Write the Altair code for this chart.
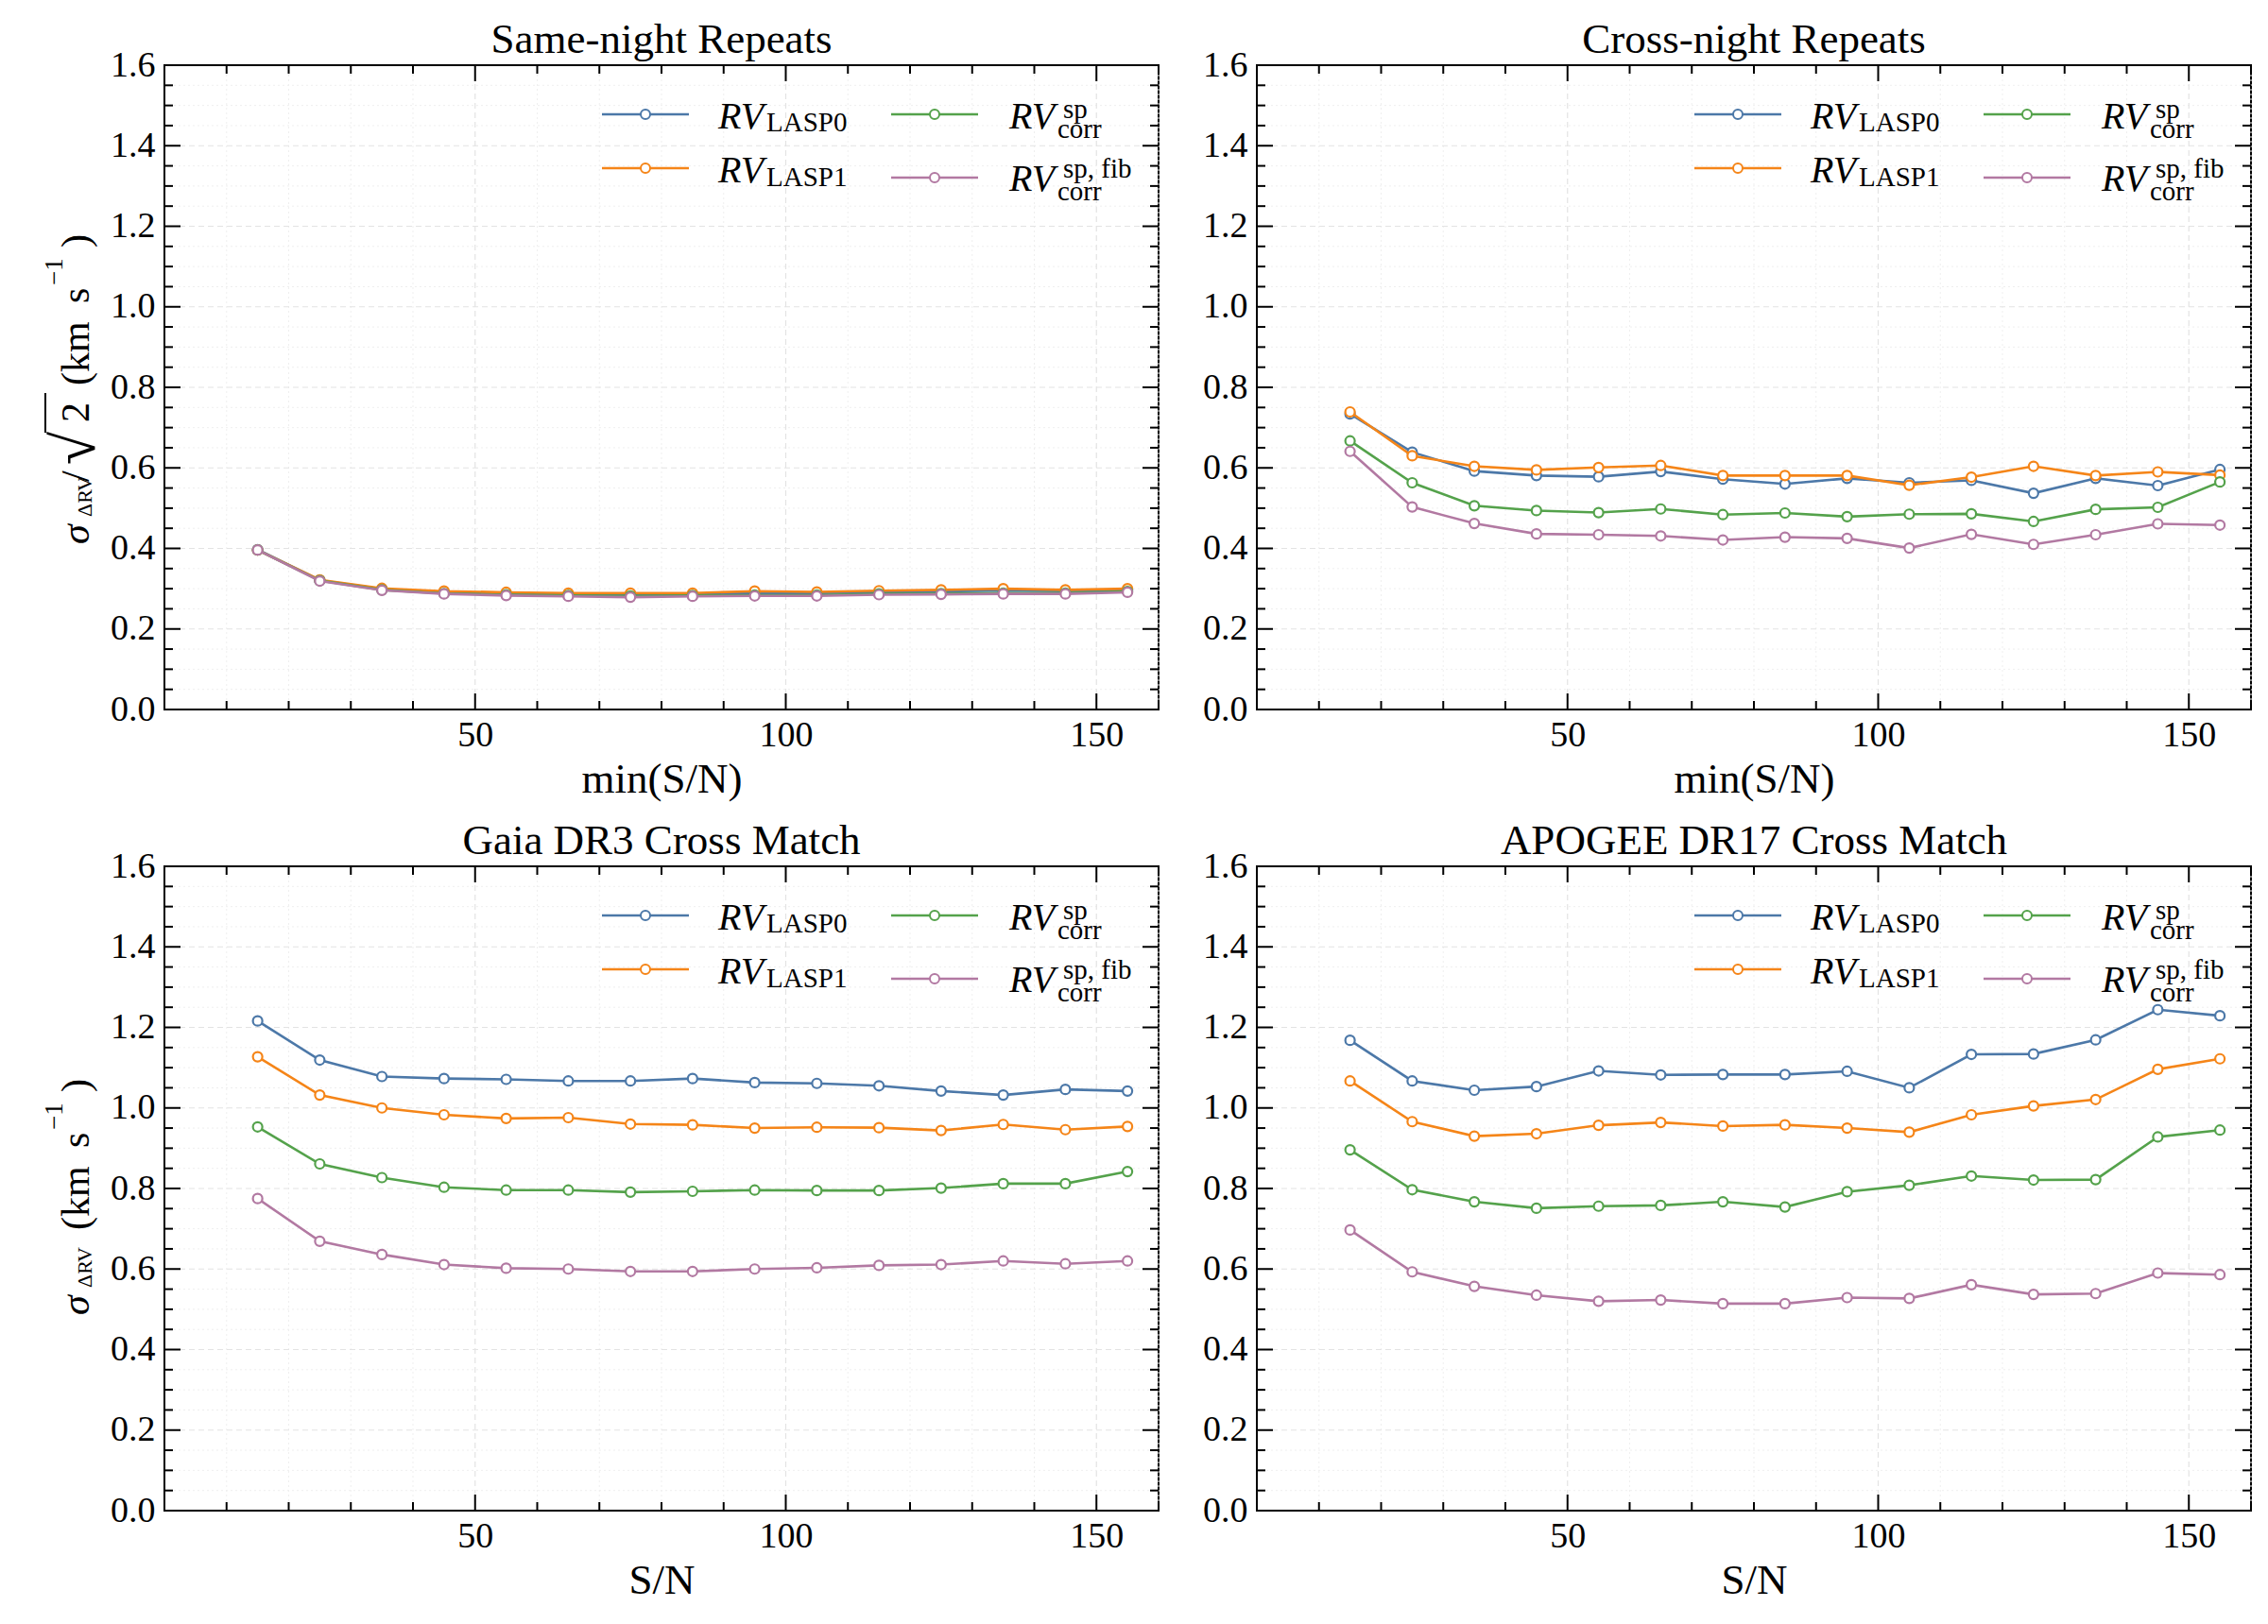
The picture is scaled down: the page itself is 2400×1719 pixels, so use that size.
import altair as alt
import pandas as pd

FONT = "Liberation Serif"
W, H = 1052, 682

# ---------------- data ----------------
SN = [15, 25, 35, 45, 55, 65, 75, 85, 95, 105, 115, 125, 135, 145, 155]
COLORS = ["#4c78a8", "#f58518", "#54a24b", "#b279a2"]

same_lasp0 = [0.397, 0.321, 0.299, 0.291, 0.288, 0.286, 0.286, 0.286, 0.290, 0.289, 0.291, 0.293, 0.296, 0.294, 0.297]
same_lasp1 = [0.396, 0.322, 0.301, 0.294, 0.291, 0.289, 0.289, 0.289, 0.294, 0.292, 0.295, 0.297, 0.300, 0.297, 0.300]
same_sp = [0.396, 0.320, 0.297, 0.288, 0.285, 0.283, 0.282, 0.283, 0.284, 0.284, 0.287, 0.288, 0.289, 0.289, 0.293]
same_spfib = [0.396, 0.319, 0.296, 0.287, 0.283, 0.281, 0.279, 0.281, 0.282, 0.282, 0.285, 0.286, 0.287, 0.287, 0.291]

cross_lasp0 = [0.734, 0.639, 0.592, 0.581, 0.578, 0.591, 0.572, 0.560, 0.574, 0.563, 0.569, 0.537, 0.574, 0.556, 0.596]
cross_lasp1 = [0.739, 0.630, 0.604, 0.595, 0.601, 0.606, 0.581, 0.581, 0.581, 0.557, 0.577, 0.604, 0.581, 0.590, 0.582]
cross_sp = [0.667, 0.563, 0.506, 0.494, 0.489, 0.498, 0.484, 0.488, 0.479, 0.485, 0.486, 0.467, 0.497, 0.502, 0.565]
cross_spfib = [0.641, 0.503, 0.462, 0.436, 0.434, 0.431, 0.421, 0.428, 0.425, 0.401, 0.435, 0.410, 0.434, 0.461, 0.458]

gaia_lasp0 = [1.216, 1.119, 1.078, 1.073, 1.071, 1.067, 1.067, 1.073, 1.063, 1.061, 1.055, 1.042, 1.032, 1.046, 1.042]
gaia_lasp1 = [1.127, 1.032, 1.000, 0.983, 0.974, 0.976, 0.960, 0.958, 0.950, 0.952, 0.951, 0.944, 0.959, 0.946, 0.954]
gaia_sp = [0.953, 0.861, 0.827, 0.803, 0.796, 0.796, 0.791, 0.793, 0.796, 0.795, 0.795, 0.801, 0.812, 0.812, 0.842]
gaia_spfib = [0.775, 0.669, 0.636, 0.611, 0.602, 0.600, 0.594, 0.594, 0.600, 0.603, 0.609, 0.611, 0.620, 0.613, 0.620]

apogee_lasp0 = [1.168, 1.067, 1.044, 1.053, 1.092, 1.082, 1.083, 1.083, 1.091, 1.050, 1.133, 1.134, 1.169, 1.244, 1.229]
apogee_lasp1 = [1.067, 0.966, 0.930, 0.936, 0.957, 0.964, 0.955, 0.958, 0.950, 0.940, 0.983, 1.005, 1.021, 1.096, 1.122]
apogee_sp = [0.896, 0.797, 0.767, 0.751, 0.756, 0.758, 0.767, 0.754, 0.792, 0.808, 0.831, 0.821, 0.822, 0.928, 0.945]
apogee_spfib = [0.697, 0.593, 0.557, 0.535, 0.520, 0.523, 0.514, 0.514, 0.529, 0.527, 0.561, 0.537, 0.539, 0.590, 0.586]

PANEL_DATA = [
    [same_lasp0, same_lasp1, same_sp, same_spfib],
    [cross_lasp0, cross_lasp1, cross_sp, cross_spfib],
    [gaia_lasp0, gaia_lasp1, gaia_sp, gaia_spfib],
    [apogee_lasp0, apogee_lasp1, apogee_sp, apogee_spfib],
]
TITLES = ["Same-night Repeats", "Cross-night Repeats", "Gaia DR3 Cross Match", "APOGEE DR17 Cross Match"]
XTITLES = ["min(S/N)", "min(S/N)", "S/N", "S/N"]

X_MAJOR = [50, 100, 150]
X_MINOR = [10, 20, 30, 40, 60, 70, 80, 90, 110, 120, 130, 140, 160]
Y_MAJOR = [0.0, 0.2, 0.4, 0.6, 0.8, 1.0, 1.2, 1.4, 1.6]
Y_MINOR = [0.05, 0.10, 0.15, 0.25, 0.30, 0.35, 0.45, 0.50, 0.55, 0.65, 0.70, 0.75,
           0.85, 0.90, 0.95, 1.05, 1.10, 1.15, 1.25, 1.30, 1.35, 1.45, 1.50, 1.55]

# ---------------- helpers ----------------
xs = alt.Scale(domain=[0, 160], nice=False, zero=False)
ys = alt.Scale(domain=[0, 1.6], nice=False, zero=False)
ONE = pd.DataFrame({"k": [0]})


def make_axes(i):
    xaxis = alt.Axis(values=X_MAJOR, title=XTITLES[i], grid=False, ticks=False, domain=False,
                     labelFont=FONT, labelFontSize=38, labelColor="black", labelPadding=8,
                     labelFlush=False, labelOverlap=False, titleFont=FONT, titleFontSize=45,
                     titleFontWeight="normal", titleColor="black", titlePadding=3,
                     minExtent=48, maxExtent=48)
    yaxis = alt.Axis(values=Y_MAJOR, format=".1f", title=None, grid=False, ticks=False,
                     domain=False, labelFont=FONT, labelFontSize=38, labelColor="black",
                     labelPadding=10, labelFlush=False, labelOverlap=False,
                     minExtent=60, maxExtent=60)
    return xaxis, yaxis


def grid_layers(XA, YA):
    out = []
    out.append(alt.Chart(pd.DataFrame({"v": X_MINOR})).mark_rule(
        color="#efefef", strokeWidth=1, strokeDash=[2, 3]).encode(
        x=alt.X("v:Q", scale=xs, axis=XA)))
    out.append(alt.Chart(pd.DataFrame({"v": Y_MINOR})).mark_rule(
        color="#efefef", strokeWidth=1, strokeDash=[2, 3]).encode(
        y=alt.Y("v:Q", scale=ys, axis=YA)))
    out.append(alt.Chart(pd.DataFrame({"v": X_MAJOR})).mark_rule(
        color="#e3e3e3", strokeWidth=1.2, strokeDash=[6, 4]).encode(
        x=alt.X("v:Q", scale=xs, axis=XA)))
    out.append(alt.Chart(pd.DataFrame({"v": Y_MAJOR[1:-1]})).mark_rule(
        color="#e3e3e3", strokeWidth=1.2, strokeDash=[6, 4]).encode(
        y=alt.Y("v:Q", scale=ys, axis=YA)))
    return out


def tick_layers(XA, YA):
    out = []
    for vals, L in [(X_MAJOR, 17), (X_MINOR, 9)]:
        base = alt.Chart(pd.DataFrame({"v": vals})).mark_rule(color="black", strokeWidth=2)
        X = alt.X("v:Q", scale=xs, axis=XA)
        out.append(base.encode(x=X, y=alt.value(H), y2=alt.value(H - L)))
        out.append(base.encode(x=X, y=alt.value(0), y2=alt.value(L)))
    for vals, L in [(Y_MAJOR, 17), (Y_MINOR, 9)]:
        base = alt.Chart(pd.DataFrame({"v": vals})).mark_rule(color="black", strokeWidth=2)
        Y = alt.Y("v:Q", scale=ys, axis=YA)
        out.append(base.encode(y=Y, x=alt.value(0), x2=alt.value(L)))
        out.append(base.encode(y=Y, x=alt.value(W), x2=alt.value(W - L)))
    return out


def txt(text, x, y, size, italic=False, angle=0):
    kw = dict(text=text, font=FONT, fontSize=size, align="left",
              baseline="alphabetic", color="black")
    if italic:
        kw["fontStyle"] = "italic"
    if angle:
        kw["angle"] = angle
    return alt.Chart(ONE).mark_text(**kw).encode(x=alt.value(x), y=alt.value(y))


def legend_layers():
    out = []
    # (series index, line x0, x1, marker x, line y, text segments)
    items = [
        (0, 463, 555, 509, 52, [("RV", True, 40, 586, 67), ("LASP0", False, 29, 637, 70)]),
        (1, 463, 555, 509, 109, [("RV", True, 40, 586, 124), ("LASP1", False, 29, 637, 128)]),
        (2, 769, 861, 815, 52, [("RV", True, 40, 894, 67), ("sp", False, 29, 951, 56),
                                ("corr", False, 29, 945, 77)]),
        (3, 769, 861, 815, 119, [("RV", True, 40, 894, 133), ("sp, fib", False, 29, 951, 119),
                                 ("corr", False, 29, 945, 143)]),
    ]
    for idx, x0, x1, xm, ly, segs in items:
        c = COLORS[idx]
        out.append(alt.Chart(ONE).mark_rule(color=c, strokeWidth=2.5).encode(
            x=alt.value(x0), x2=alt.value(x1), y=alt.value(ly)))
        out.append(alt.Chart(ONE).mark_point(shape="circle", filled=True, fill="white",
                                             stroke=c, strokeWidth=2, size=100, opacity=1).encode(
            x=alt.value(xm), y=alt.value(ly)))
        for t, it, sz, tx, ty in segs:
            out.append(txt(t, tx, ty, sz, italic=it))
    return out


def ylabel_layers(top):
    out = []
    bx, sbx, spx = -80, -77, -108
    if top:
        s0 = 507
        segs = [("σ", True, 42, 0, bx), ("ΔRV", False, 22, 29, sbx), ("/", False, 42, 66, bx),
                ("√", False, 64, 84, bx + 6), ("2", False, 42, 129, bx), ("(km", False, 42, 168, bx),
                ("s", False, 42, 255, bx), ("−1", False, 27, 274, spx), (")", False, 42, 314, bx)]
        out.append(alt.Chart(ONE).mark_rule(color="black", strokeWidth=2).encode(
            x=alt.value(-126), y=alt.value(s0 - 118), y2=alt.value(s0 - 160)))
    else:
        s0 = 475
        segs = [("σ", True, 42, 0, bx), ("ΔRV", False, 22, 29, sbx), ("(km", False, 42, 90, bx),
                ("s", False, 42, 177, bx), ("−1", False, 27, 196, spx), (")", False, 42, 236, bx)]
    for t, it, sz, off, x in segs:
        out.append(txt(t, x, s0 - off, sz, italic=it, angle=270))
    return out


def panel(i):
    XA, YA = make_axes(i)
    layers = grid_layers(XA, YA) + tick_layers(XA, YA)
    for j, vals in enumerate(PANEL_DATA[i]):
        df = pd.DataFrame({"sn": SN, "v": vals})
        enc = dict(x=alt.X("sn:Q", scale=xs, axis=XA), y=alt.Y("v:Q", scale=ys, axis=YA))
        layers.append(alt.Chart(df).mark_line(color=COLORS[j], strokeWidth=2.6).encode(**enc))
        layers.append(alt.Chart(df).mark_point(shape="circle", filled=True, fill="white",
                                               stroke=COLORS[j], strokeWidth=2.2, size=100,
                                               opacity=1).encode(**enc))
    layers += legend_layers()
    if i == 0:
        layers += ylabel_layers(True)
    elif i == 2:
        layers += ylabel_layers(False)
    title = alt.TitleParams(TITLES[i], font=FONT, fontSize=45, fontWeight="normal",
                            color="black", offset=-15, anchor="middle")
    return alt.layer(*layers).properties(width=W, height=H, title=title)


row1 = alt.hconcat(panel(0), panel(1), spacing=41)
row2 = alt.hconcat(panel(2), panel(3), spacing=41)
chart = alt.vconcat(row1, row2, spacing=19).configure_view(
    stroke="black", strokeWidth=2).configure_axis(
    labelFont=FONT, titleFont=FONT).configure_title(font=FONT).configure_text(
    font=FONT).properties(
    padding={"left": 35, "top": 11, "right": 5, "bottom": 5},
    background="white")

chart.save("out.html", embed_options={"renderer": "svg", "actions": False})
